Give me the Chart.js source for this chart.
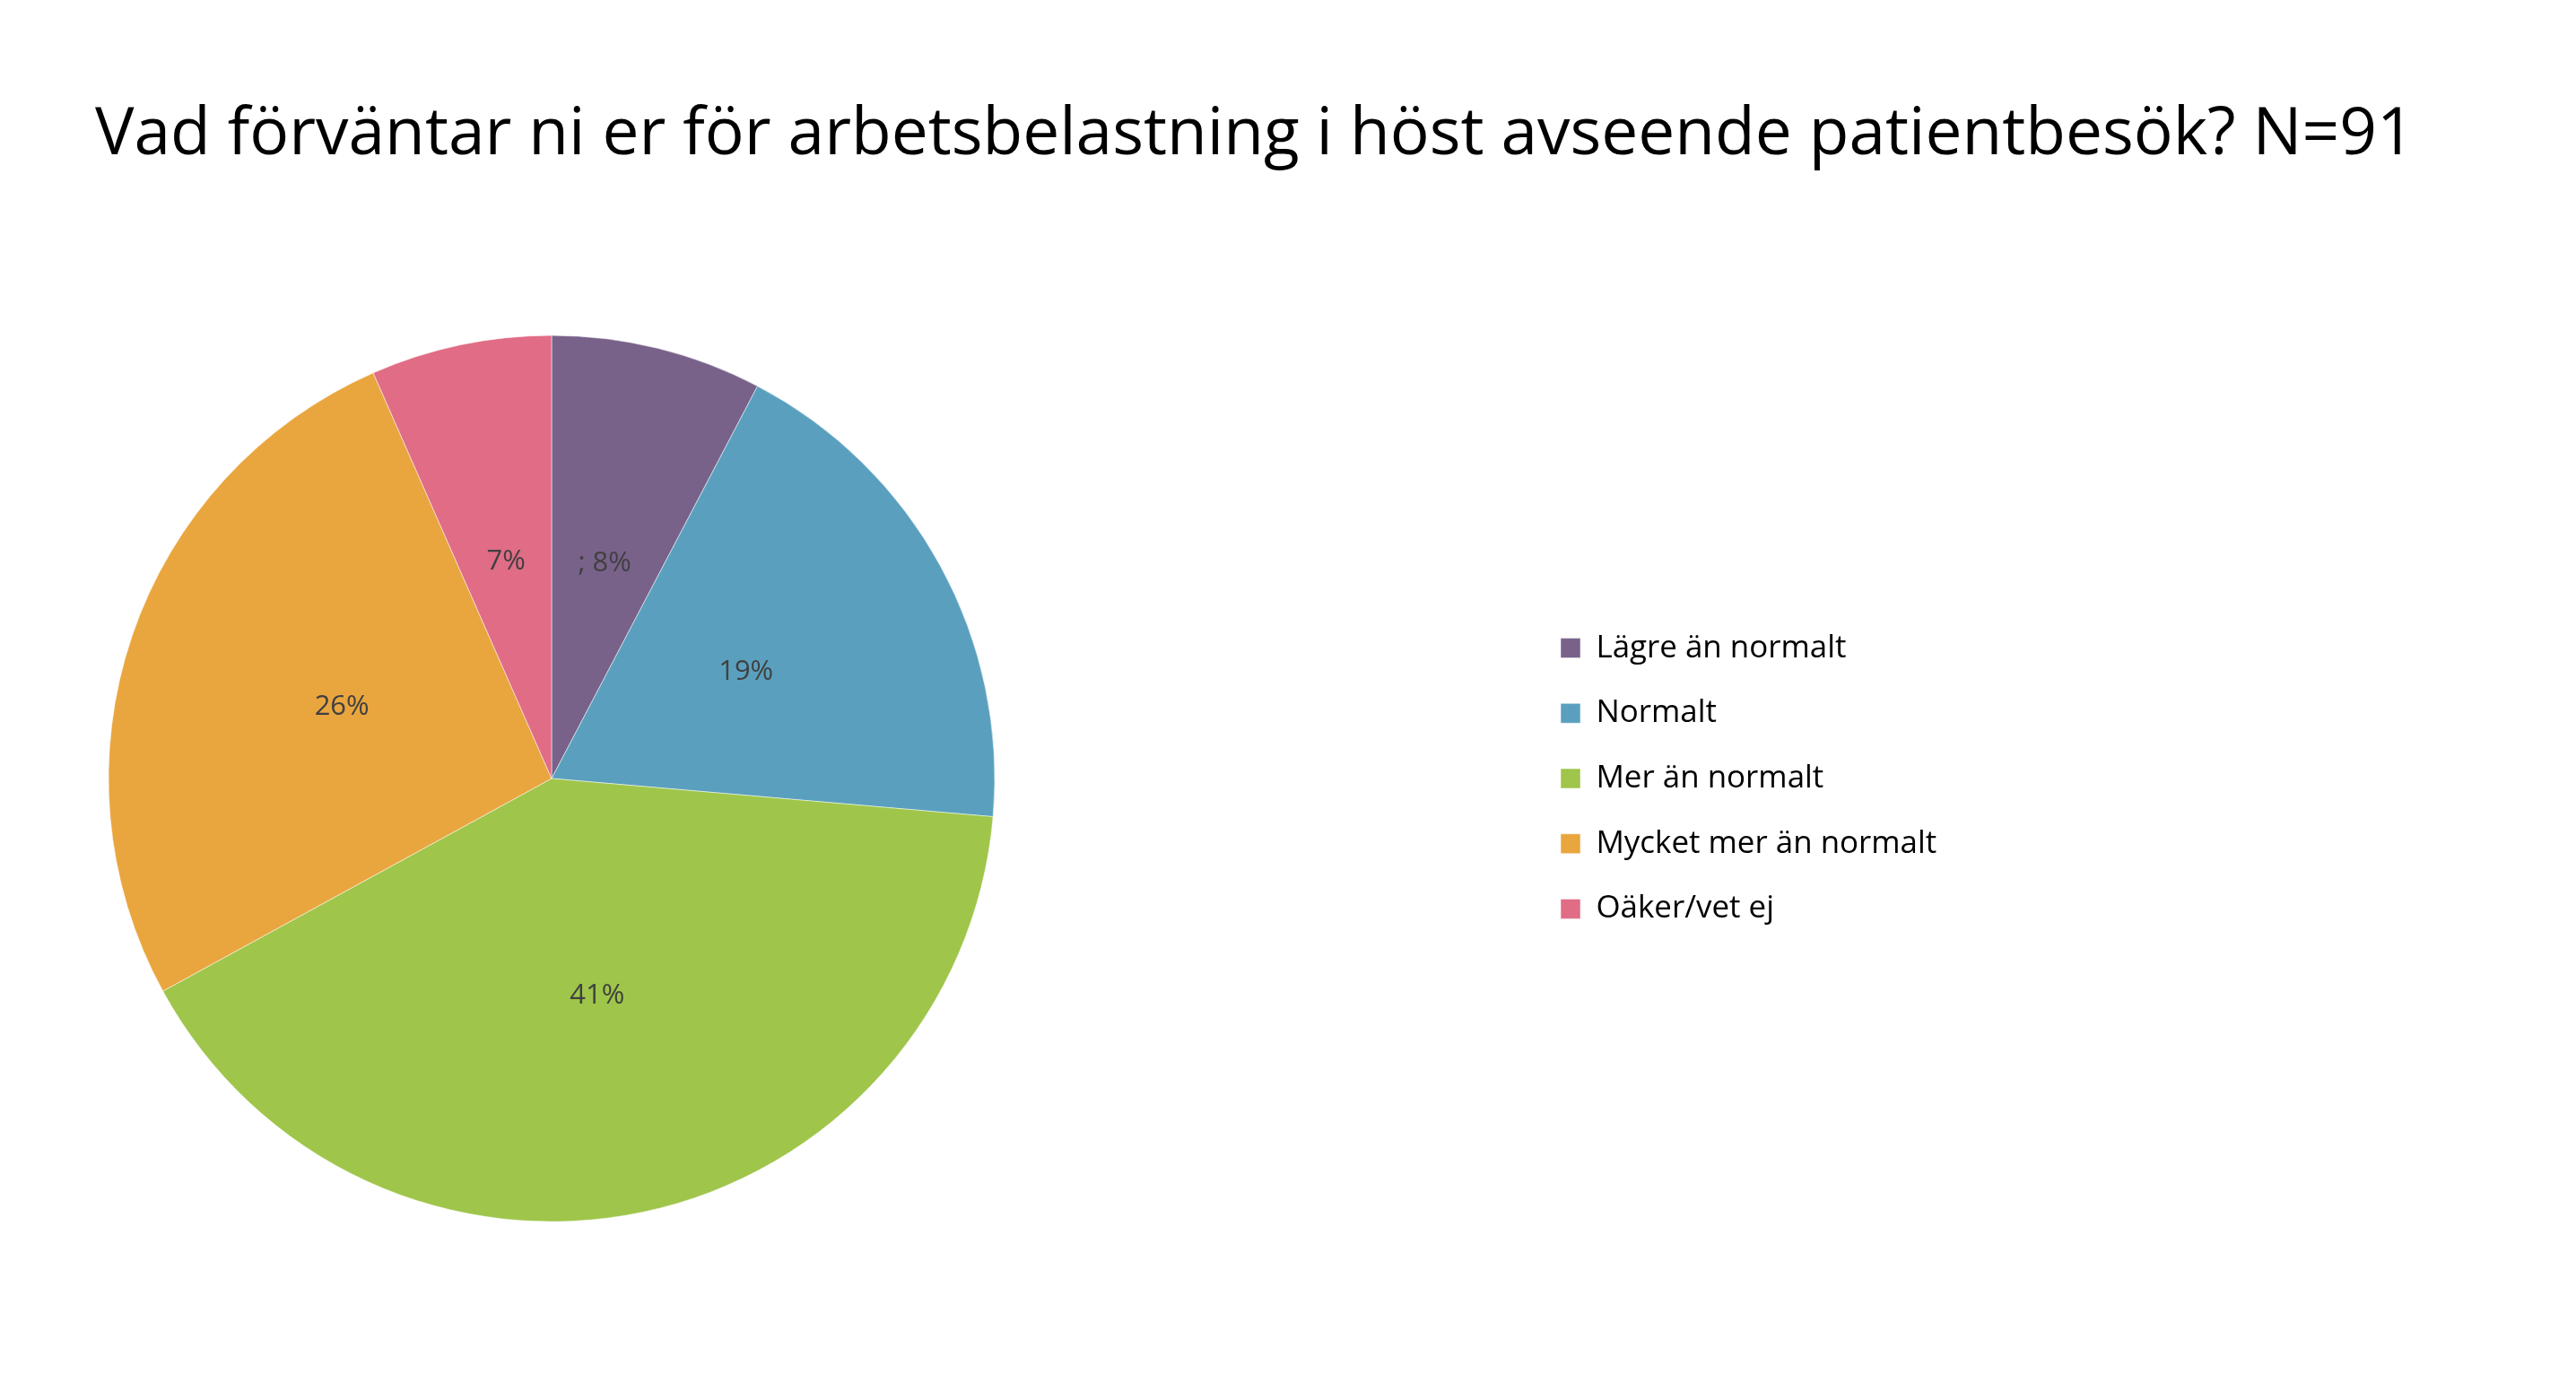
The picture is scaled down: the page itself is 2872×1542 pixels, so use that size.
<!DOCTYPE html>
<html>
<head>
<meta charset="utf-8">
<script src="https://cdn.jsdelivr.net/npm/chart.js@4"></script>
<style>
  html, body { margin: 0; padding: 0; background: #fff; }
  #wrap { position: relative; width: 2872px; height: 1542px; }
  #title { position: absolute; left: 106px; margin: 0; font-family: 'Open Sans'; font-weight: normal; line-height: 1; white-space: nowrap; color: #000; }
  canvas { position: absolute; left: 0; top: 0; }
</style>
</head>
<body>
<div id="wrap">
  <h1 id="title">Vad förväntar ni er för arbetsbelastning i höst avseende patientbesök? N=91</h1>
  <canvas id="pie" width="2872" height="1542"></canvas>
</div>
<script>
const categories = ['Lägre än normalt', 'Normalt', 'Mer än normalt', 'Mycket mer än normalt', 'Oäker/vet ej'];
const answers = [7, 17, 37, 24, 6]; // antal svar, N=91
const sliceLabels = ['; 8%', '19%', '41%', '26%', '7%'];
const colors = ['#78628A', '#5AA0BE', '#9FC54A', '#E9A63F', '#E06C86'];

const FONT = 'Open Sans';

// font size so a text gets the same width as in the picture
const meas = document.createElement('canvas').getContext('2d');
function fitSize(text, width) {
    meas.font = '100px ' + FONT;
    return 100 * width / meas.measureText(text).width;
}
function textWidth(text, size) {
    meas.font = size + 'px ' + FONT;
    return meas.measureText(text).width;
}

const title = document.getElementById('title');
const titleSize = fitSize(title.textContent, 2586);
title.style.fontSize = titleSize + 'px';
title.style.top = (172 - 0.888 * titleSize) + 'px';

const legendSize = fitSize('Mycket mer än normalt', 380);
const labelSize = fitSize('41%', 61);

const legendPad = 72.7 - legendSize;
const maxText = Math.max(...categories.map(c => textWidth(c, legendSize)));
const legendWidth = legendPad + 22 + legendSize / 2 + maxText + 10;
// legend boxes start at legend.left + padding
const legendLeft = 1740 - legendPad;
const pieRight = 1124;

const sliceText = {
    id: 'sliceText',
    afterDatasetsDraw(chart) {
        const ctx = chart.ctx;
        ctx.save();
        ctx.font = labelSize + 'px ' + FONT;
        ctx.fillStyle = '#404040';
        ctx.textAlign = 'center';
        ctx.textBaseline = 'middle';
        chart.getDatasetMeta(0).data.forEach((arc, i) => {
            const p = arc.tooltipPosition();
            ctx.fillText(sliceLabels[i], p.x, p.y);
        });
        ctx.restore();
    }
};

const ctx = document.getElementById('pie').getContext('2d');
const myChart = new Chart(ctx, {
    type: 'pie',
    data: {
        labels: categories,
        datasets: [{
            data: answers,
            backgroundColor: colors,
            borderColor: 'rgba(255, 255, 255, 0.5)',
            borderWidth: 1,
            hoverOffset: 0
        }]
    },
    options: {
        responsive: false,
        animation: false,
        radius: 494,
        layout: {
            padding: { top: 374, bottom: 180, left: 106, right: 2872 - legendLeft - legendWidth }
        },
        plugins: {
            tooltip: { enabled: false },
            // empty subtitle only used as a gap between pie and legend
            subtitle: {
                display: true,
                text: ' ',
                position: 'right',
                fullSize: false,
                weight: 500,
                font: { size: 1, lineHeight: 1 },
                padding: { top: legendLeft - pieRight - 1, bottom: 0 }
            },
            legend: {
                position: 'right',
                fullSize: false,
                align: 'center',
                labels: {
                    boxWidth: 22,
                    boxHeight: 22,
                    padding: legendPad,
                    color: '#000',
                    font: { family: FONT, size: legendSize }
                }
            }
        }
    },
    plugins: [sliceText]
});
</script>
</body>
</html>
